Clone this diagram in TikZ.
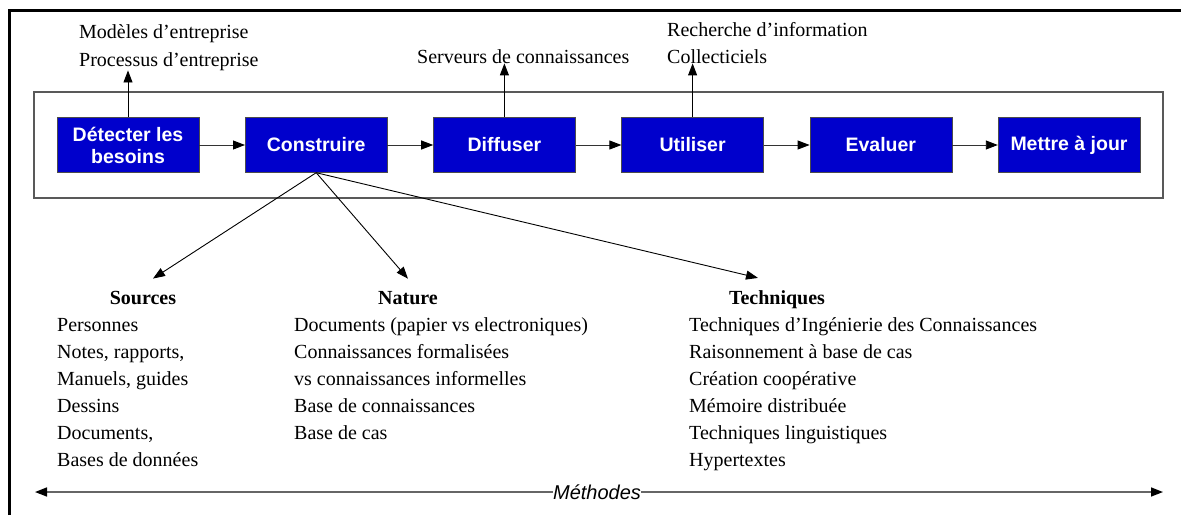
\documentclass[tikz,border=0pt]{standalone}
\usepackage{fontspec}
\setmainfont{Liberation Serif}
\setsansfont{Liberation Sans}
\usetikzlibrary{arrows.meta}

\begin{document}
\begin{tikzpicture}[x=1pt,y=-1pt,
  etape/.style={draw=black!70, fill={rgb,255:red,0;green,0;blue,204}, text=white,
    minimum width=142pt, minimum height=55pt, inner sep=0pt, align=center,
    font=\sffamily\bfseries\fontsize{19.5}{22}\selectfont},
  txt/.style={inner sep=0pt, font=\fontsize{20}{27}\selectfont},
  titre/.style={inner sep=0pt, font=\bfseries\fontsize{20}{27}\selectfont},
  fleche/.style={-{Triangle[length=12pt,width=9pt,color=black]}, line width=0.9pt}]

\useasboundingbox (0,0) rectangle (1181,515);
\draw[line width=3pt] (9,515) -- (9,10) -- (1181,10);
\draw[black!65, line width=1.5pt] (34,92) rectangle (1163,198);

\foreach \t/\n [count=\i from 0] in {{Détecter les\\besoins}/detecter, Construire/construire, Diffuser/diffuser, Utiliser/utiliser, Evaluer/evaluer, {Mettre à jour}/majour}
  \node[etape] (\n) at (128+188.2*\i,145) {\t};
\foreach \a/\b in {detecter/construire, construire/diffuser, diffuser/utiliser, utiliser/evaluer, evaluer/majour}
  \draw[fleche, black!80] (\a) -- (\b);

\node[txt, anchor=base west] (modeles) at (79,38) {Modèles d’entreprise};
\node[txt, anchor=base west] (processus) at (79,66) {Processus d’entreprise};
\node[txt, anchor=base west] (serveurs) at (417,63) {Serveurs de connaissances};
\node[txt, anchor=base west] (recherche) at (667,36) {Recherche d’information};
\node[txt, anchor=base west] (collect) at (667,63) {Collecticiels};
\draw[fleche] (detecter.north) -- (detecter.north |- processus.south);
\draw[fleche] (diffuser.north) -- (diffuser.north |- serveurs.south);
\draw[fleche] (utiliser.north) -- (utiliser.north |- collect.south);

\node[titre, anchor=base] (sources) at (143,304) {Sources};
\node[titre, anchor=base] (nature) at (408,304) {Nature};
\node[titre, anchor=base] (techniques) at (777,304) {Techniques};
\draw[fleche] (construire.south) -- ([xshift=10pt,yshift=12pt]sources.north);
\draw[fleche] (construire.south) -- ([yshift=12pt]nature.north);
\draw[fleche] (construire.south) -- ([xshift=-19pt,yshift=12pt]techniques.north);

\foreach \t [count=\i] in {Personnes, {Notes, rapports,}, {Manuels, guides}, Dessins, {Documents,}, Bases de données}
  \node[txt, anchor=base west] (src\i) at (57,304+27*\i) {\t};
\foreach \t [count=\i] in {Documents (papier vs electroniques), Connaissances formalisées, vs connaissances informelles, Base de connaissances, Base de cas}
  \node[txt, anchor=base west] (nat\i) at (294,304+27*\i) {\t};
\foreach \t [count=\i] in {Techniques d’Ingénierie des Connaissances, Raisonnement à base de cas, Création coopérative, Mémoire distribuée, Techniques linguistiques, Hypertextes}
  \node[txt, anchor=base west] (tech\i) at (689,304+27*\i) {\t};

\coordinate (mgauche) at (35,492);
\coordinate (mdroite) at (1163,492);
\node[inner sep=0pt, font=\sffamily\itshape\fontsize{20}{24}\selectfont] (methodes) at (597,492) {Méthodes};
\draw[fleche, black!60, line width=1.5pt] (methodes) -- (mgauche);
\draw[fleche, black!60, line width=1.5pt] (methodes) -- (mdroite);
\end{tikzpicture}
\end{document}
